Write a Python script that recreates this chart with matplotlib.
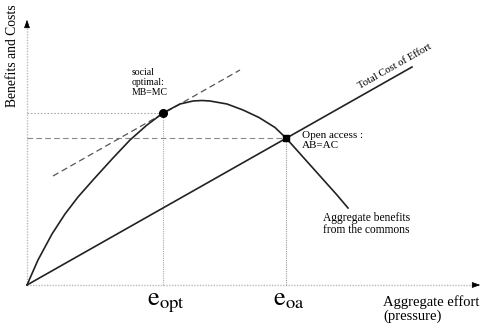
import numpy as np
import matplotlib.pyplot as plt

plt.rcParams['font.family'] = ['Liberation Serif', 'DejaVu Serif']
plt.rcParams['mathtext.fontset'] = 'stix'

# aggregate benefits curve (origin at the axes corner)
effort = [0, 11, 25, 38, 51, 66, 86, 103, 120, 136, 153, 166, 175, 183, 200,
          216, 232, 248, 259, 276, 293, 310, 321]
benefits = [0, 25, 51, 71, 88, 105, 127, 145, 160, 172, 181, 184, 184.5, 184, 181,
            175, 167.5, 157.5, 147, 128, 109, 90, 77]

# total cost of effort line
cost_x = [0, 385]
cost_y = [0, 218]

# dashed MB=MC line
tangent_x = [26, 213]
tangent_y = [109, 215]

e_opt, b_opt = 136, 172
e_oa, b_oa = 259, 147

fig = plt.figure(figsize=(4.99, 3.32), dpi=100)
ax = fig.add_axes([0, 0, 1, 1])
ax.set_xlim(-27, 472)
ax.set_ylim(-47, 285)
ax.axis('off')

# axes
ax.plot([0, 452], [0, 0], color='#bbbbbb', lw=1.0, ls=(0, (1, 1)))
ax.plot([0, 0], [0, 262], color='#bbbbbb', lw=1.0, ls=(0, (1, 1)))
ax.annotate('', xy=(456, 0), xytext=(446, 0),
            arrowprops=dict(arrowstyle='-|>,head_length=0.5,head_width=0.18', color='k', lw=0.5))
ax.annotate('', xy=(0, 268), xytext=(0, 258),
            arrowprops=dict(arrowstyle='-|>,head_length=0.5,head_width=0.18', color='k', lw=0.5))

# guide lines
ax.plot([0, e_opt], [b_opt, b_opt], color='#aaaaaa', lw=0.8, ls=(0, (1.5, 1.5)))
ax.plot([e_opt, e_opt], [0, b_opt], color='#aaaaaa', lw=0.8, ls=(0, (1, 1)))
ax.plot([0, e_oa], [b_oa, b_oa], color='#888888', lw=0.8, ls=(0, (5, 3)))
ax.plot([e_oa, e_oa], [0, b_oa], color='#999999', lw=0.8, ls=(0, (1, 1)))
ax.plot(tangent_x, tangent_y, color='#555555', lw=0.9, ls=(0, (5, 3)))

# curves
ax.plot(cost_x, cost_y, color='#222222', lw=1.2)
ax.plot(effort, benefits, color='#222222', lw=1.2, solid_joinstyle='round')

ax.plot([e_opt], [b_opt], 'o', color='k', ms=5.5)
ax.plot([e_oa], [b_oa], 's', color='k', ms=4.5)

# labels
ax.text(-14, 229, 'Benefits and Costs', rotation=90, ha='center', va='center', fontsize=9.8)
ax.text(105, 217, 'social\noptimal:\nMB=MC', ha='left', va='top', fontsize=7, linespacing=1.15)
ax.text(275, 154, 'Open access :\nAB=AC', ha='left', va='top', fontsize=8, linespacing=1.1)
ax.text(296, 73, 'Aggregate benefits\nfrom the commons', ha='left', va='top', fontsize=8.3, linespacing=1.05)
ax.text(368, 219, 'Total Cost of Effort', rotation=29.5, ha='center', va='center',
        fontsize=7.7, rotation_mode='anchor')
ax.text(356, -10, 'Aggregate effort\n(pressure)', ha='left', va='top', fontsize=10.5, linespacing=1.05)
ax.text(120, -20, r'$\mathrm{e}_{\mathrm{opt}}$', ha='left', va='baseline', fontsize=19)
ax.text(246, -20, r'$\mathrm{e}_{\mathrm{oa}}$', ha='left', va='baseline', fontsize=19)

fig.savefig('out.png', dpi=100)
